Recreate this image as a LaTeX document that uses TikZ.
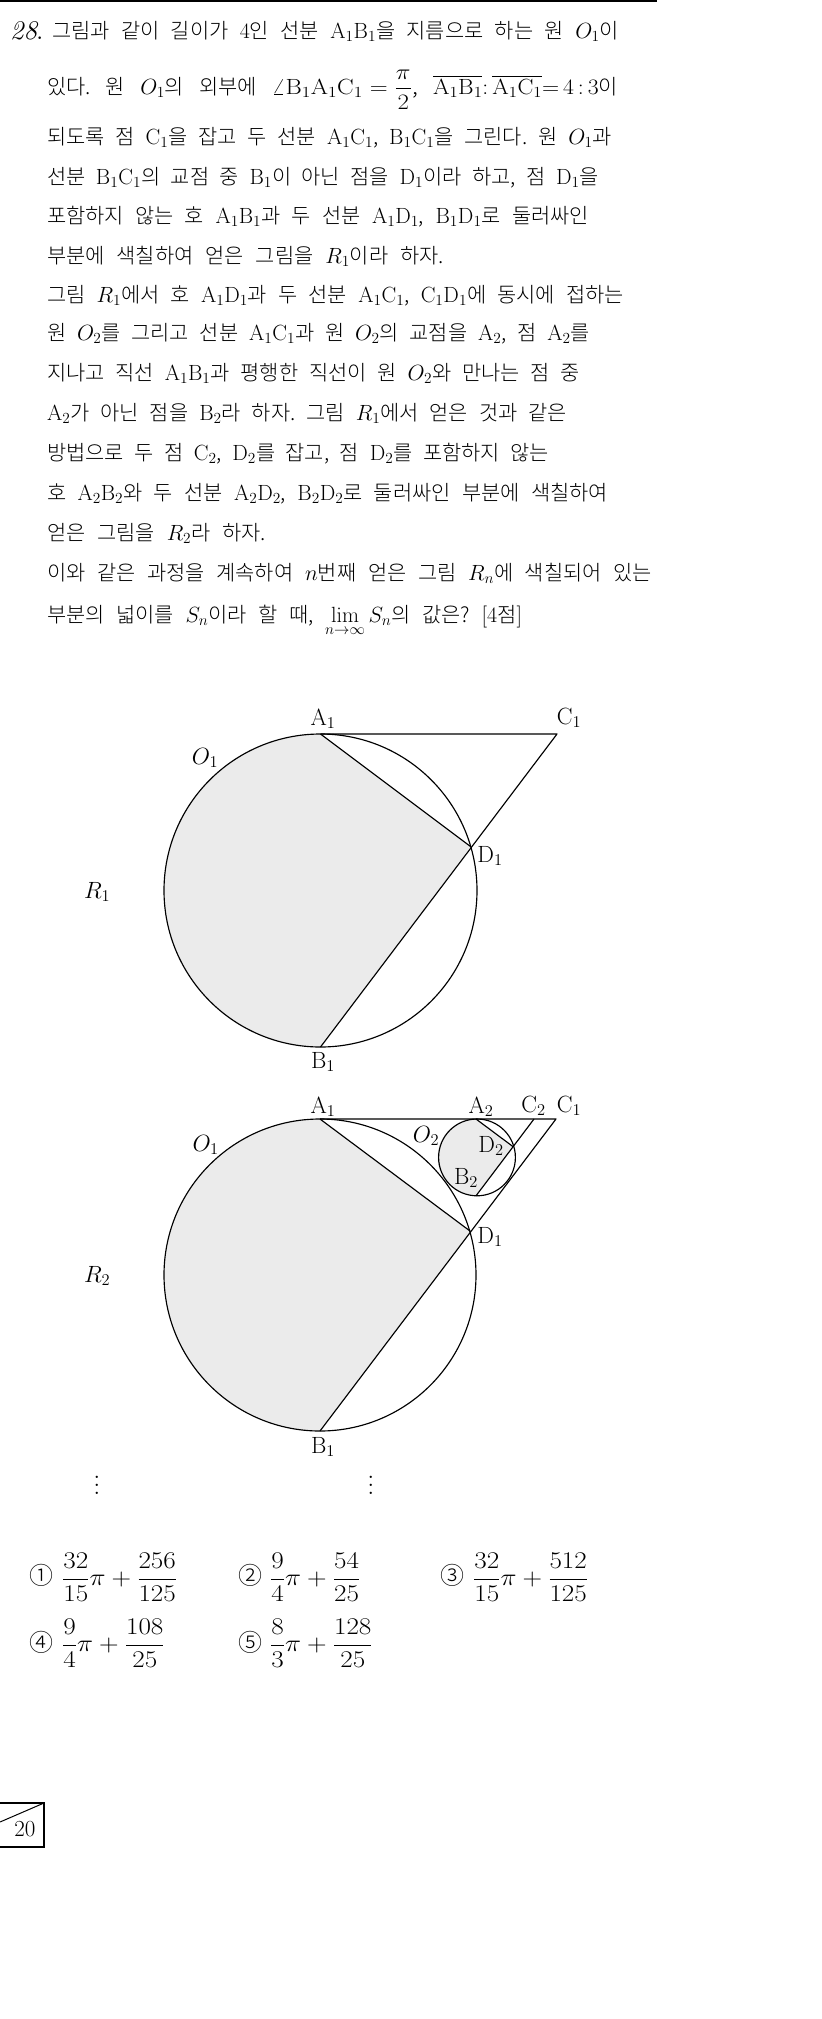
\RequirePackage{fix-cm}
\documentclass[tikz,border=0pt]{standalone}
\usepackage{amsmath}
\usepackage{graphicx}
\usepackage[no-math]{fontspec}
\setmainfont{Noto Sans CJK KR Light}[Scale=0.95]
\newfontfamily\cfont{Noto Sans CJK KR Light}
\newcommand{\rmm}[1]{\ensuremath{\mathrm{#1}}}
\newcommand{\tline}[2]{\hbox to #1pt{\frenchspacing\spaceskip=.2em plus 1fil\relax #2}}
\newcommand{\wide}[1]{\scalebox{1.13}[1]{\fontsize{24}{28}\selectfont #1}}
\newcommand{\vdotsbig}{\vbox{\baselineskip=8pt\lineskiplimit=0pt\hbox{$.$}\hbox{$.$}\hbox{$.$}\kern3pt}}
\tikzset{
  textline/.style={anchor=base west,inner sep=0pt,outer sep=0pt},
  lab/.style={anchor=base,inner sep=0pt,outer sep=0pt,font=\fontsize{23.5}{28}\selectfont},
  rlab/.style={anchor=base west,inner sep=0pt,outer sep=0pt,font=\fontsize{23.5}{28}\selectfont},
  circ/.style={inner sep=0pt,font=\fontsize{24}{28}\selectfont\cfont},
  vdot/.style={inner sep=0pt,font=\fontsize{24}{28}\selectfont},
  geo/.style={line width=1.15pt,line join=round}
}
\begin{document}
\begin{tikzpicture}[x=1pt,y=-1pt,font=\fontsize{22}{26}\selectfont]
\useasboundingbox (0,0) rectangle (822,2019);
\fill[white] (0,0) rectangle (822,2019);
\coordinate (r0) at (0,1);
\coordinate (r1) at (657,1);
\draw[line width=1.4pt] (r0) -- (r1);

\node[textline,font=\fontsize{27}{30}\selectfont] (n28) at (10,39) {$\mathit{28}\!\mathit{.}$};
\node[textline] (t1) at (52,38) {\tline{567}{그림과 같이 길이가 $4$인 선분 \rmm{A_1B_1}을 지름으로 하는 원 $O_1$이}};
\node[textline] (t2) at (47,94) {\tline{571}{있다. 원 $O_1$의 외부에 \scalebox{1.13}[1]{$\angle\mathrm{B_1A_1C_1}=\dfrac{\pi}{2}$,} \scalebox{1.08}[1]{$\overline{\mathrm{A_1B_1}}{:}\,\overline{\mathrm{A_1C_1}}{=}\,4\,{:}\,3$}이}};
\node[textline] (t3) at (47,144) {\tline{565}{되도록 점 \rmm{C_1}을 잡고 두 선분 \rmm{A_1C_1}, \rmm{B_1C_1}을 그린다. 원 $O_1$과}};
\node[textline] (t4) at (47,184) {\tline{552}{선분 \rmm{B_1C_1}의 교점 중 \rmm{B_1}이 아닌 점을 \rmm{D_1}이라 하고, 점 \rmm{D_1}을}};
\node[textline] (t5) at (47,223) {\tline{542}{포함하지 않는 호 \rmm{A_1B_1}과 두 선분 \rmm{A_1D_1}, \rmm{B_1D_1}로 둘러싸인}};
\node[textline] (t6) at (47,263) {\tline{397}{부분에 색칠하여 얻은 그림을 $R_1$이라 하자.}};
\node[textline] (t7) at (47,302) {\tline{577}{그림 $R_1$에서 호 \rmm{A_1D_1}과 두 선분 \rmm{A_1C_1}, \rmm{C_1D_1}에 동시에 접하는}};
\node[textline] (t8) at (47,340) {\tline{543}{원 $O_2$를 그리고 선분 \rmm{A_1C_1}과 원 $O_2$의 교점을 \rmm{A_2}, 점 \rmm{A_2}를}};
\node[textline] (t9) at (47,380) {\tline{533}{지나고 직선 \rmm{A_1B_1}과 평행한 직선이 원 $O_2$와 만나는 점 중}};
\node[textline] (t10) at (47,420) {\tline{520}{\rmm{A_2}가 아닌 점을 \rmm{B_2}라 하자. 그림 $R_1$에서 얻은 것과 같은}};
\node[textline] (t11) at (47,460) {\tline{502}{방법으로 두 점 \rmm{C_2}, \rmm{D_2}를 잡고, 점 \rmm{D_2}를 포함하지 않는}};
\node[textline] (t12) at (47,500) {\tline{561}{호 \rmm{A_2B_2}와 두 선분 \rmm{A_2D_2}, \rmm{B_2D_2}로 둘러싸인 부분에 색칠하여}};
\node[textline] (t13) at (47,540) {\tline{219}{얻은 그림을 $R_2$라 하자.}};
\node[textline] (t14) at (47,580) {\tline{605}{이와 같은 과정을 계속하여 $n$번째 얻은 그림 $R_n$에 색칠되어 있는}};
\node[textline] (t15) at (47,622) {\tline{475}{부분의 넓이를 $S_n$이라 할 때, $\lim\limits_{n\to\infty}S_n$의 값은? $[4$점$]$}};

% R1
\coordinate (a1) at (320.5,734);
\coordinate (b1) at (320.5,1047);
\coordinate (c1) at (557,734);
\coordinate (d1) at (470.8,846.7);
\coordinate (o1) at (320.5,890.5);
\path[fill=black!8] (a1) arc[start angle=90,end angle=270,radius=156.5pt] -- (d1) -- cycle;
\draw[geo] (o1) circle[radius=156.5pt];
\draw[geo] (a1) -- (c1) -- (b1);
\draw[geo] (a1) -- (d1);
\node[lab] (la1) at (323,725) {$\mathrm{A}_1$};
\node[lab] (lc1) at (569,724) {$\mathrm{C}_1$};
\node[lab] (lo1) at (205,764) {$O_1$};
\node[lab] (ld1) at (490,862) {$\mathrm{D}_1$};
\node[lab] (lb1) at (323,1068) {$\mathrm{B}_1$};
\node[rlab] (lr1) at (84,898) {$R_1$};

% R2
\coordinate (pa1) at (320,1119);
\coordinate (pb1) at (320,1431);
\coordinate (pc1) at (556,1119);
\coordinate (pd1) at (470.4,1231.3);
\coordinate (po1) at (320,1275);
\coordinate (pa2) at (476,1119);
\coordinate (pb2) at (476,1195.8);
\coordinate (pc2) at (534,1119);
\coordinate (pd2) at (513,1146.6);
\coordinate (po2) at (477,1157.4);
\path[fill=black!8] (pa1) arc[start angle=90,end angle=270,radius=156pt] -- (pd1) -- cycle;
\path[fill=black!8] (pa2) arc[start angle=90,end angle=270,radius=38.4pt] -- (pd2) -- cycle;
\draw[geo] (po1) circle[radius=156pt];
\draw[geo] (po2) circle[radius=38.4pt];
\draw[geo] (pa1) -- (pc1) -- (pb1);
\draw[geo] (pa1) -- (pd1);
\draw[geo] (pa2) -- (pd2);
\draw[geo] (pb2) -- (pc2);
\node[lab] (qa1) at (323,1113) {$\mathrm{A}_1$};
\node[lab] (qa2) at (481,1113) {$\mathrm{A}_2$};
\node[lab] (qc2) at (533.5,1112) {$\mathrm{C}_2$};
\node[lab] (qc1) at (569,1112) {$\mathrm{C}_1$};
\node[lab] (qo1) at (205.6,1151) {$O_1$};
\node[lab] (qo2) at (426,1142) {$O_2$};
\node[lab] (qd2) at (491,1152) {$\mathrm{D}_2$};
\node[lab] (qb2) at (466,1184) {$\mathrm{B}_2$};
\node[lab] (qd1) at (490,1243) {$\mathrm{D}_1$};
\node[lab] (qb1) at (323,1453) {$\mathrm{B}_1$};
\node[rlab] (qr2) at (84,1282) {$R_2$};
\node[vdot] (v1) at (97,1487) {\vdotsbig};
\node[vdot] (v2) at (371,1487) {\vdotsbig};

% choices
\node[circ] (k1) at (41,1575) {①};
\node[circ] (k2) at (250,1575) {②};
\node[circ] (k3) at (452,1575) {③};
\node[circ] (k4) at (41,1642) {④};
\node[circ] (k5) at (250,1642) {⑤};
\node[textline] (f1) at (62,1585) {\wide{$\dfrac{32}{15}\pi+\dfrac{256}{125}$}};
\node[textline] (f2) at (270,1585) {\wide{$\dfrac{9}{4}\pi+\dfrac{54}{25}$}};
\node[textline] (f3) at (473,1585) {\wide{$\dfrac{32}{15}\pi+\dfrac{512}{125}$}};
\node[textline] (f4) at (62,1651) {\wide{$\dfrac{9}{4}\pi+\dfrac{108}{25}$}};
\node[textline] (f5) at (270,1651) {\wide{$\dfrac{8}{3}\pi+\dfrac{128}{25}$}};

% page number box
\coordinate (p0) at (0,1803);
\coordinate (p1) at (44,1803);
\coordinate (p2) at (44,1847);
\coordinate (p3) at (0,1847);
\coordinate (p4) at (0,1822);
\draw[line width=1.1pt] (p0) -- (p1) -- (p2) -- (p3);
\draw[line width=1pt] (p4) -- (p1);
\node[inner sep=0pt,font=\fontsize{23}{26}\selectfont] (pg) at (25,1829) {$20$};
\end{tikzpicture}
\end{document}
